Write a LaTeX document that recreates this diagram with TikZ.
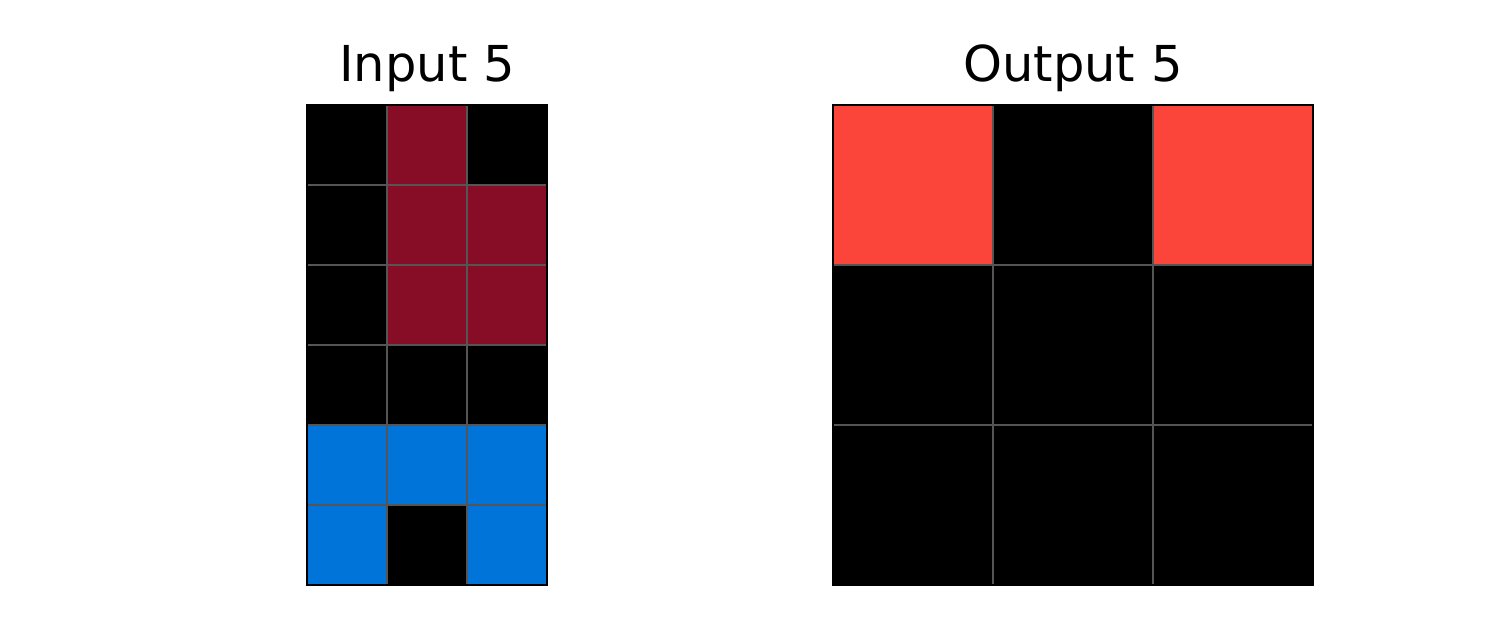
\documentclass[tikz,border=0pt]{standalone}
\usepackage{fontspec}
\setmainfont{DejaVu Sans}
\definecolor{arcK}{HTML}{000000}
\definecolor{arcM}{HTML}{870C25}
\definecolor{arcB}{HTML}{0074D9}
\definecolor{arcR}{HTML}{FB453B}
\definecolor{gridgrey}{HTML}{555555}
\tikzset{
  title/.style={font=\fontsize{49.5}{58}\selectfont, anchor=base, inner sep=0pt},
  gridline/.style={draw=gridgrey, line width=2},
  frame/.style={draw=black, line width=2.6},
}
\begin{document}
\begin{tikzpicture}[x=1pt,y=-1pt]
\useasboundingbox (0,0) rectangle (1500,629);
\fill[white] (0,0) rectangle (1500,629);
% Input grid: origin (307,105), cell 80
\foreach \r/\a/\b/\cc in {0/K/M/K,1/K/M/M,2/K/M/M,3/K/K/K,4/B/B/B,5/B/K/B}{
  \fill[arc\a] (307,105+80*\r) rectangle ++(80,80);
  \fill[arc\b] (387,105+80*\r) rectangle ++(80,80);
  \fill[arc\cc] (467,105+80*\r) rectangle ++(80,80);
}
\foreach \i in {1,2}{\draw[gridline] (307+80*\i,105) -- (307+80*\i,585);}
\foreach \i in {1,...,5}{\draw[gridline] (307,105+80*\i) -- (547,105+80*\i);}
\draw[frame] (307,105) rectangle (547,585);
\node[title] (tin) at (427,81) {Input 5};
% Output grid: origin (833,105), cell 160
\foreach \r/\a/\b/\cc in {0/R/K/R,1/K/K/K,2/K/K/K}{
  \fill[arc\a] (833,105+160*\r) rectangle ++(160,160);
  \fill[arc\b] (993,105+160*\r) rectangle ++(160,160);
  \fill[arc\cc] (1153,105+160*\r) rectangle ++(160,160);
}
\foreach \i in {1,2}{\draw[gridline] (833+160*\i,105) -- (833+160*\i,585);}
\foreach \i in {1,2}{\draw[gridline] (833,105+160*\i) -- (1313,105+160*\i);}
\draw[frame] (833,105) rectangle (1313,585);
\node[title] (tout) at (1073,81) {Output 5};
\end{tikzpicture}
\end{document}
